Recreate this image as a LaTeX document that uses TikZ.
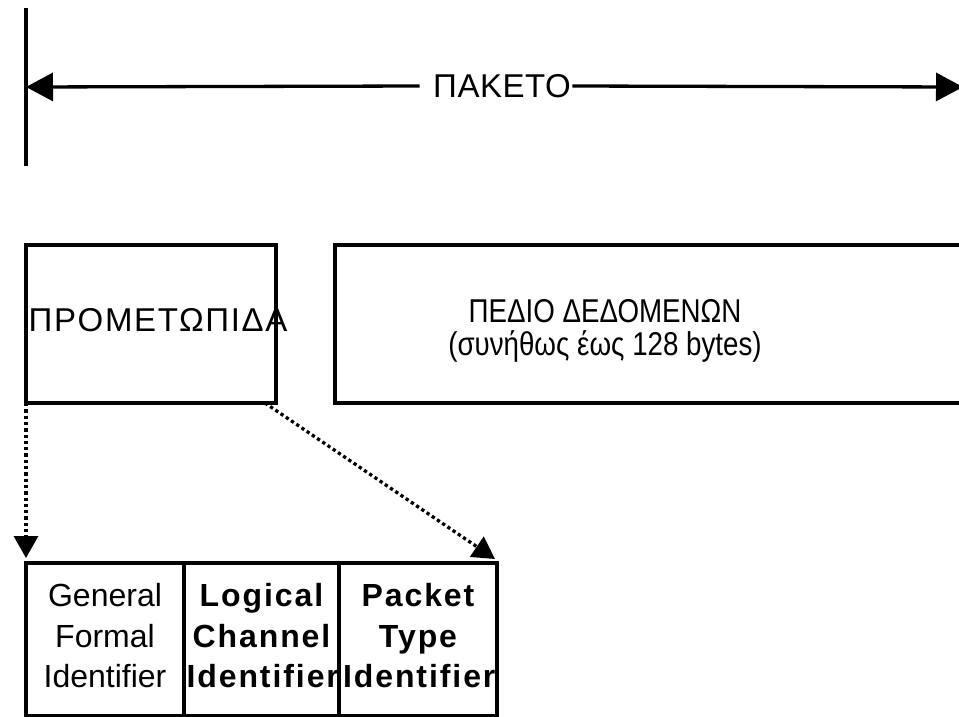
\documentclass[tikz,border=0pt]{standalone}
\usepackage{fontspec}
\setmainfont{Liberation Sans}
\newfontfamily\widefont[LetterSpace=5]{Liberation Sans}
\newfontfamily\narrowfont[FakeStretch=0.84]{Liberation Sans}
\usetikzlibrary{arrows.meta, positioning}

\begin{document}
\begin{tikzpicture}[x=1pt, y=-1pt, line width=3.3pt,
  fieldbox/.style={draw, line width=3.3pt, inner sep=0pt, outer sep=0pt},
  bigtext/.style={font=\fontsize{33}{33}\selectfont, inner sep=0pt},
  cellbox/.style={draw, line width=3.3pt, inner sep=0pt, outer sep=0pt, minimum height=153pt, text width=150pt, text depth=89pt, align=center, font=\fontsize{32}{40.5}\selectfont},
  boldcell/.style={cellbox, font=\fontsize{32}{40.5}\selectfont\addfontfeature{LetterSpace=6}\bfseries},
  dimarrow/.style={line width=3.3pt, -{Triangle[length=27pt, width=28pt]}},
  zoomarrow/.style={line width=3.3pt, dash pattern=on 3.3pt off 3pt, -{Triangle[length=22pt, width=24pt]}}]

  \useasboundingbox (0,0) rectangle (959,716);
  \clip (0,0) rectangle (959,716);

  % Packet length marker
  \coordinate (ticktop) at (26,8);
  \coordinate (tickbot) at (26,166);
  \coordinate (pktstart) at (26,87);
  \coordinate (pktend) at (963,87);
  \draw (ticktop) -- (tickbot);
  \node[bigtext, font=\fontsize{33}{33}\selectfont\addfontfeature{LetterSpace=1.5}] (pkt) at (502,86) {ΠΑΚΕΤΟ};
  \draw[dimarrow] ([xshift=-12pt]pkt.west) -- (pktstart);
  \draw[dimarrow] (pkt.east) -- (pktend);

  % Header and data fields
  \node[fieldbox, minimum width=250pt, minimum height=158pt, anchor=north west] (hdr) at (26,245) {};
  \node[bigtext, font=\fontsize{33}{33}\widefont] (hdrlabel) at (158,320) {ΠΡΟΜΕΤΩΠΙΔΑ};

  \node[fieldbox, minimum width=680pt, minimum height=158pt, anchor=north west] (data) at (335,245) {};
  \node[bigtext, align=center, font=\fontsize{33}{33}\narrowfont] (datalabel) at (605,331) {ΠΕΔΙΟ ΔΕΔΟΜΕΝΩΝ\\(συνήθως έως 128 bytes)};

  % Header breakdown
  \node[cellbox, minimum width=158pt, anchor=north west] (gfi) at (26,563) {General\\Formal\\Identifier};
  \node[boldcell, minimum width=155pt, right=0pt of gfi] (lci) {Logical\\Channel\\Identifier};
  \node[boldcell, minimum width=158pt, right=0pt of lci] (pti) {Packet\\Type\\Identifier};

  \coordinate (hdrcut) at ([xshift=-11pt]hdr.south east);
  \draw[zoomarrow] (hdr.south west) -- ([yshift=5pt]gfi.north west);
  \draw[zoomarrow] (hdrcut) -- ([shift={(-2,-4)}]pti.north east);
\end{tikzpicture}
\end{document}
